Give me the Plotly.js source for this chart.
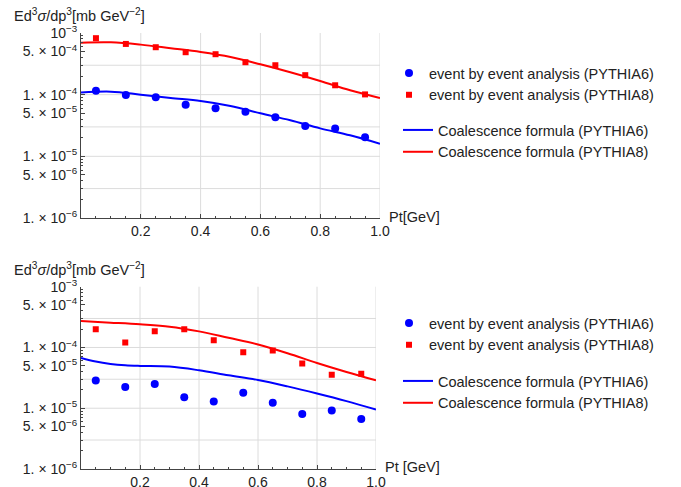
<!DOCTYPE html>
<html>
<head>
<meta charset="utf-8">
<script src="https://cdn.plot.ly/plotly-3.0.1.min.js"></script>
<style>html,body{margin:0;padding:0;background:#fff;}#plot{width:681px;height:487px;}</style>
</head>
<body>
<div id="plot"></div>
<script>
// ---- data ----
const ptBins = [0.05, 0.15, 0.25, 0.35, 0.45, 0.55, 0.65, 0.75, 0.85, 0.95];
const curveX = [0, 0.1, 0.2, 0.3, 0.4, 0.5, 0.6, 0.7, 0.8, 0.9, 1.0];
const curveXfine = [0, 0.05, 0.1, 0.15, 0.2, 0.3, 0.4, 0.5, 0.6, 0.7, 0.8, 0.9, 1.0];

// top panel
const topEvtP6 = [1.16e-4, 9.9e-5, 9.07e-5, 6.89e-5, 6.01e-5, 5.3e-5, 4.29e-5, 3.1e-5, 2.84e-5, 2.03e-5];
const topEvtP8 = [8.24e-4, 6.65e-4, 5.88e-4, 4.88e-4, 4.53e-4, 3.36e-4, 3.0e-4, 2.07e-4, 1.42e-4, 1.01e-4];
const topCoalP6 = [1.08e-4, 1.12e-4, 1.0e-4, 8.83e-5, 7.9e-5, 6.56e-5, 4.99e-5, 3.84e-5, 2.84e-5, 2.19e-5, 1.6e-5];
const topCoalP8 = [6.98e-4, 7.08e-4, 6.48e-4, 5.66e-4, 4.93e-4, 4.09e-4, 3.11e-4, 2.31e-4, 1.67e-4, 1.18e-4, 8.83e-5];

// bottom panel
const botEvtP6 = [2.87e-5, 2.23e-5, 2.5e-5, 1.52e-5, 1.29e-5, 1.8e-5, 1.23e-5, 8.07e-6, 9.16e-6, 6.67e-6];
const botEvtP8 = [1.99e-4, 1.21e-4, 1.84e-4, 1.99e-4, 1.31e-4, 8.36e-5, 8.9e-5, 5.43e-5, 3.57e-5, 3.71e-5];
const botCoalP6 = [6.73e-5, 5.86e-5, 5.36e-5, 5.09e-5, 4.97e-5, 4.85e-5, 4.21e-5, 3.48e-5, 2.91e-5, 2.29e-5, 1.75e-5, 1.31e-5, 9.5e-6];
const botCoalP8 = [2.72e-4, 2.56e-4, 2.4e-4, 2.2e-4, 1.84e-4, 1.44e-4, 1.12e-4, 8.05e-5, 5.56e-5, 3.95e-5, 2.87e-5];

// ticks and grid
const xTickVals = [0.2, 0.4, 0.6, 0.8, 1.0];
const xTickText = ['0.2', '0.4', '0.6', '0.8', '1.0'];
const xMinorVals = [0.05,0.1,0.15,0.25,0.3,0.35,0.45,0.5,0.55,0.65,0.7,0.75,0.85,0.9,0.95];
const xGridVals = [0.2, 0.4, 0.6, 0.8, 1.0];
const yTickVals = [1e-3, 5e-4, 1e-4, 5e-5, 1e-5, 5e-6, 1e-6];
const yTickText = ['10<sup>−3</sup>', '5. × 10<sup>−4</sup>', '1. × 10<sup>−4</sup>', '5. × 10<sup>−5</sup>',
                   '1. × 10<sup>−5</sup>', '5. × 10<sup>−6</sup>', '1. × 10<sup>−6</sup>'];
const yMinorVals = [2e-6,3e-6,4e-6,6e-6,7e-6,8e-6,9e-6,2e-5,3e-5,4e-5,6e-5,7e-5,8e-5,9e-5,2e-4,3e-4,4e-4,6e-4,7e-4,8e-4,9e-4];
const yGridVals = [3e-6, 1e-5, 3e-5, 1e-4, 3e-4];

const names = ['event by event analysis (PYTHIA6)', 'event by event analysis (PYTHIA8)',
               'Coalescence formula (PYTHIA6)', 'Coalescence formula (PYTHIA8)'];
const BLUE = 'rgb(0,0,255)', RED = 'rgb(255,0,0)';

const traces = [
  {x: ptBins, y: topEvtP6, mode: 'markers', name: names[0], marker: {color: BLUE, size: 8, symbol: 'circle'}, xaxis: 'x', yaxis: 'y', legend: 'legend'},
  {x: ptBins, y: topEvtP8, mode: 'markers', name: names[1], marker: {color: RED, size: 6, symbol: 'square'}, xaxis: 'x', yaxis: 'y', legend: 'legend'},
  {x: curveX, y: topCoalP6, mode: 'lines', name: names[2], line: {color: BLUE, width: 2, shape: 'spline'}, xaxis: 'x', yaxis: 'y', legend: 'legend2'},
  {x: curveX, y: topCoalP8, mode: 'lines', name: names[3], line: {color: RED, width: 2, shape: 'spline'}, xaxis: 'x', yaxis: 'y', legend: 'legend2'},
  {x: ptBins, y: botEvtP6, mode: 'markers', name: names[0], marker: {color: BLUE, size: 8, symbol: 'circle'}, xaxis: 'x2', yaxis: 'y2', legend: 'legend3'},
  {x: ptBins, y: botEvtP8, mode: 'markers', name: names[1], marker: {color: RED, size: 6, symbol: 'square'}, xaxis: 'x2', yaxis: 'y2', legend: 'legend3'},
  {x: curveXfine, y: botCoalP6, mode: 'lines', name: names[2], line: {color: BLUE, width: 2, shape: 'spline'}, xaxis: 'x2', yaxis: 'y2', legend: 'legend4'},
  {x: curveX, y: botCoalP8, mode: 'lines', name: names[3], line: {color: RED, width: 2, shape: 'spline'}, xaxis: 'x2', yaxis: 'y2', legend: 'legend4'}
];

const FONT = 'Liberation Sans, Arial, sans-serif';
const L = 81, R = 301, T = 33, B = 18;
const PW = 681 - L - R, PH = 487 - T - B;
const py = v => (487 - B - v) / PH;   // pixel row -> paper y
const px = v => (v - L) / PW;         // pixel col -> paper x
const TICKFONT = {family: FONT, size: 14, color: '#222'};
const TXTFONT = {family: FONT, size: 14.5, color: '#222'};

function xAxis(anchor, domain) {
  return {
    domain: domain, anchor: anchor, range: [0, 1], tickmode: 'array', tickvals: xTickVals, ticktext: xTickText,
    ticks: 'inside', ticklen: 4, tickcolor: '#444', showline: true, linecolor: '#444', linewidth: 1,
    showgrid: false, zeroline: false,
    minor: {tickmode: 'array', tickvals: xMinorVals, ticks: 'inside', ticklen: 2, tickcolor: '#444', showgrid: false},
    tickfont: TICKFONT, fixedrange: true
  };
}
function yAxis(anchor, domain) {
  return {
    domain: domain, anchor: anchor, type: 'log', range: [-6, -3], tickmode: 'array', tickvals: yTickVals, ticktext: yTickText,
    ticks: 'inside', ticklen: 4, tickcolor: '#444', showline: true, linecolor: '#444', linewidth: 1,
    showgrid: false, zeroline: false,
    minor: {tickmode: 'array', tickvals: yMinorVals, ticks: 'inside', ticklen: 2, tickcolor: '#444', showgrid: false},
    tickfont: TICKFONT, fixedrange: true
  };
}

const GRID = {color: '#dcdcdc', width: 1};
const shapes = [];
[['x', 'y'], ['x2', 'y2']].forEach(([xa, ya]) => {
  yGridVals.forEach(v => shapes.push({type: 'line', layer: 'below', xref: xa + ' domain', yref: ya, x0: 0, x1: 1, y0: v, y1: v, line: GRID}));
  xGridVals.forEach(v => shapes.push({type: 'line', layer: 'below', xref: xa, yref: ya + ' domain', x0: v, x1: v, y0: 0, y1: 1, line: GRID}));
});

const topDom = [py(218), 1];
const botDom = [0, py(286.7)];
function leg(xp, yp) {
  return {x: px(xp), y: py(yp), xanchor: 'left', yanchor: 'top', bgcolor: 'rgba(0,0,0,0)', borderwidth: 0,
          font: TXTFONT, traceorder: 'normal', tracegroupgap: 0};
}

const yLabel = 'Ed<sup>3</sup><i>σ</i>/dp<sup>3</sup>[mb GeV<sup>−2</sup>]';
const layout = {
  width: 681, height: 487, margin: {l: L, r: R, t: T, b: B, pad: 0},
  paper_bgcolor: '#fff', plot_bgcolor: '#fff', font: TXTFONT,
  xaxis: xAxis('y', [0, 1]),
  yaxis: yAxis('x', topDom),
  xaxis2: xAxis('y2', [0, 295 / 299]),
  yaxis2: yAxis('x2', botDom),
  showlegend: true,
  legend: leg(389, 57),
  legend2: leg(398, 114),
  legend3: leg(389, 307),
  legend4: leg(398, 365),
  shapes: shapes,
  annotations: [
    {text: yLabel, xref: 'paper', yref: 'paper', x: px(12), y: py(15), xanchor: 'left', yanchor: 'middle', showarrow: false, font: TXTFONT},
    {text: yLabel, xref: 'paper', yref: 'paper', x: px(12), y: py(269), xanchor: 'left', yanchor: 'middle', showarrow: false, font: TXTFONT},
    {text: 'Pt[GeV]', xref: 'paper', yref: 'paper', x: px(387), y: py(217), xanchor: 'left', yanchor: 'middle', showarrow: false, font: TXTFONT},
    {text: 'Pt [GeV]', xref: 'paper', yref: 'paper', x: px(383), y: py(467), xanchor: 'left', yanchor: 'middle', showarrow: false, font: TXTFONT}
  ]
};

Plotly.newPlot('plot', traces, layout, {displayModeBar: false, staticPlot: true});
</script>
</body>
</html>
